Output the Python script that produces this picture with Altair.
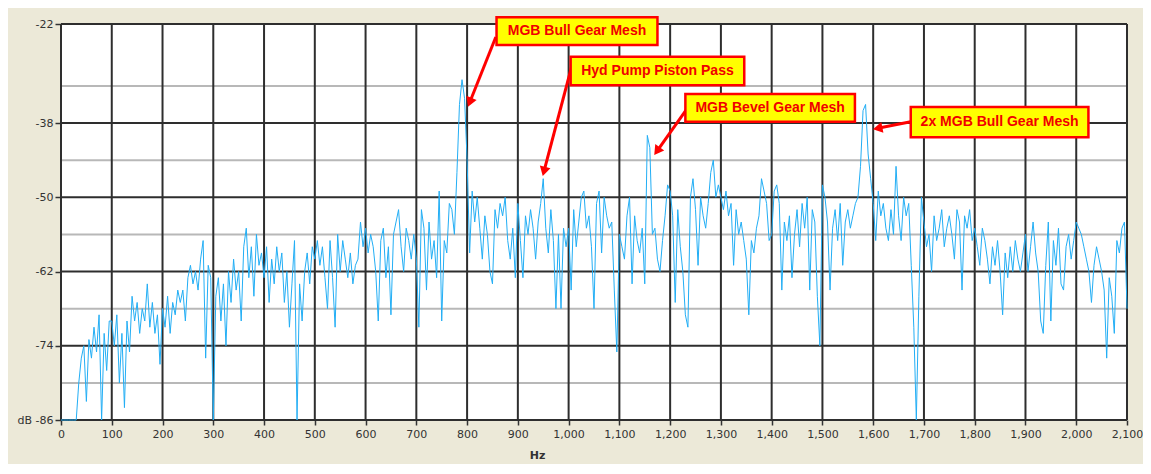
import math
import altair as alt
import pandas as pd

# ---- spectrum values (dB), one list per 100 Hz, 5 Hz bins ----
db_0000 = [-86, -86, -86, -86, -86, -86, -86, -80, -76, -74, -83, -73, -76, -71, -75, -69, -86, -72, -78, -70]
db_0100 = [-70, -74, -69, -80, -72, -84, -70, -75, -66, -70, -67, -72, -68, -70, -64, -71, -67, -72, -69, -77]
db_0200 = [-68, -71, -66, -72, -67, -69, -65, -67, -65, -70, -63, -61, -64, -62, -65, -60, -57, -76, -61, -63]
db_0300 = [-86, -66, -63, -70, -64, -74, -62, -67, -60, -65, -62, -70, -58, -55, -63, -58, -66, -56, -61, -59]
db_0400 = [-63, -58, -67, -60, -64, -58, -62, -59, -67, -62, -71, -64, -57, -86, -64, -70, -62, -59, -64, -58]
db_0500 = [-60, -57, -61, -58, -63, -68, -57, -63, -71, -56, -62, -57, -60, -63, -59, -64, -61, -60, -54, -58]
db_0600 = [-55, -59, -56, -58, -62, -70, -57, -55, -63, -58, -69, -56, -54, -52, -58, -62, -55, -57, -60, -56]
db_0700 = [-60, -71, -52, -55, -65, -54, -60, -57, -63, -49, -70, -57, -59, -51, -52, -56, -46, -35, -31, -34]
db_0800 = [-44, -59, -49, -54, -50, -55, -60, -53, -56, -62, -64, -52, -55, -51, -53, -50, -57, -60, -55, -63]
db_0900 = [-51, -57, -63, -53, -56, -52, -55, -60, -54, -51, -47, -55, -59, -52, -57, -68, -56, -68, -55, -58]
db_1000 = [-55, -65, -52, -58, -54, -50, -49, -55, -53, -58, -68, -51, -49, -59, -50, -53, -55, -54, -65, -75]
db_1100 = [-56, -58, -60, -53, -50, -64, -53, -57, -59, -55, -64, -40, -42, -56, -55, -60, -62, -57, -53, -48]
db_1200 = [-49, -53, -67, -52, -58, -62, -69, -71, -50, -47, -52, -61, -50, -53, -55, -51, -46, -44, -50, -48]
db_1300 = [-50, -52, -49, -53, -51, -61, -52, -56, -54, -57, -60, -69, -57, -59, -55, -53, -47, -49, -51, -57]
db_1400 = [-56, -49, -48, -51, -65, -54, -57, -53, -63, -56, -52, -58, -51, -55, -50, -65, -52, -54, -66, -74]
db_1500 = [-48, -50, -54, -65, -55, -52, -57, -51, -61, -54, -52, -55, -53, -51, -50, -45, -36, -35, -43, -47]
db_1600 = [-51, -57, -49, -53, -51, -55, -57, -52, -56, -45, -53, -57, -50, -53, -51, -61, -71, -86, -66, -50]
db_1700 = [-54, -58, -56, -62, -53, -57, -55, -52, -58, -55, -53, -56, -60, -52, -54, -65, -53, -55, -52, -57]
db_1800 = [-55, -58, -61, -55, -57, -60, -64, -58, -61, -57, -62, -69, -59, -63, -58, -62, -57, -60, -62, -59]
db_1900 = [-56, -62, -58, -54, -59, -62, -70, -72, -61, -54, -70, -57, -61, -55, -64, -65, -58, -56, -60, -57]
db_2000 = [-54, -55, -56, -58, -60, -62, -67, -61, -58, -60, -62, -65, -76, -63, -66, -72, -57, -59, -55, -54, -68]

db_values = (db_0000 + db_0100 + db_0200 + db_0300 + db_0400 + db_0500 + db_0600
             + db_0700 + db_0800 + db_0900 + db_1000 + db_1100 + db_1200 + db_1300
             + db_1400 + db_1500 + db_1600 + db_1700 + db_1800 + db_1900 + db_2000)
freq_hz = [i * 5 for i in range(len(db_values))]

# ---- axes ----
x_ticks = [0, 100, 200, 300, 400, 500, 600, 700, 800, 900, 1000, 1100, 1200, 1300,
           1400, 1500, 1600, 1700, 1800, 1900, 2000, 2100]
y_major = [-86, -74, -62, -50, -38, -22]
y_minor = [-80, -68, -56, -44, -32]

# ---- callouts ----
callout_labels = ["MGB Bull Gear Mesh", "Hyd Pump Piston Pass", "MGB Bevel Gear Mesh", "2x MGB Bull Gear Mesh"]
box_hz_left = [858, 1004, 1230, 1674]
box_hz_right = [1175, 1346, 1564, 2024]
box_db_top = [-20.9, -27.3, -33.3, -35.4]
box_db_bottom = [-25.4, -31.9, -37.8, -40.3]
arrow_hz_from = [856.6, 1005.9, 1232.4, 1673.9]
arrow_db_from = [-24.1, -28.9, -35.8, -37.8]
arrow_hz_to = [801.6, 948.9, 1168.4, 1599.2]
arrow_db_to = [-35.4, -46.6, -43.2, -39.0]

W, H = 1066, 396
X_DOM = [0, 2100]
Y_DOM = [-86, -22]
ppx = W / (X_DOM[1] - X_DOM[0])
ppy = H / (Y_DOM[1] - Y_DOM[0])

rows = []
for i, lab in enumerate(callout_labels):
    dx = (arrow_hz_to[i] - arrow_hz_from[i]) * ppx
    dy = -(arrow_db_to[i] - arrow_db_from[i]) * ppy
    L = math.hypot(dx, dy)
    ux, uy = dx / L, dy / L
    back = 5.0
    hz_c = arrow_hz_to[i] - back * ux / ppx
    db_c = arrow_db_to[i] + back * uy / ppy
    ang = math.degrees(math.atan2(dx, -dy)) % 360
    rows.append(dict(
        label=lab,
        bx1=box_hz_left[i], bx2=box_hz_right[i], by1=box_db_top[i], by2=box_db_bottom[i],
        tx=(box_hz_left[i] + box_hz_right[i]) / 2, ty=(box_db_top[i] + box_db_bottom[i]) / 2,
        ax1=arrow_hz_from[i], ay1=arrow_db_from[i], ax2=hz_c, ay2=db_c,
        angle=ang,
    ))
callouts = pd.DataFrame(rows)

spec = pd.DataFrame({"Hz": freq_hz, "dB": db_values})

xs = alt.Scale(domain=X_DOM, nice=False, zero=False)
ys = alt.Scale(domain=Y_DOM, nice=False, zero=False)

x_axis = alt.Axis(values=x_ticks, format=",d", title="Hz", grid=False, domain=False,
                  labelFont="DejaVu Sans", labelFontSize=11, labelColor="#333333",
                  labelFlush=False, labelOverlap=False, labelPadding=3,
                  tickColor="#333333", tickSize=5, tickWidth=1.5,
                  titleFont="DejaVu Sans", titleFontSize=11, titleFontWeight="bold",
                  titleColor="#333333", titleX=476, titleY=29, titleAlign="center")
y_axis = alt.Axis(values=y_major, title=None, grid=False, domain=False,
                  labelExpr="(datum.value == -86 ? 'dB ' : '') + '-' + abs(datum.value)",
                  labelFont="DejaVu Sans", labelFontSize=11, labelColor="#333333",
                  labelPadding=2, tickColor="#333333", tickSize=6, tickWidth=1.5)

minor_h = alt.Chart(pd.DataFrame({"v": y_minor})).mark_rule(
    color="#B8B8B8", strokeWidth=2
).encode(y=alt.Y("v:Q", scale=ys, axis=y_axis))

major_h = alt.Chart(pd.DataFrame({"v": y_major})).mark_rule(
    color="#2E2E2E", strokeWidth=2
).encode(y=alt.Y("v:Q", scale=ys, axis=y_axis))

major_v = alt.Chart(pd.DataFrame({"v": x_ticks})).mark_rule(
    color="#2E2E2E", strokeWidth=2
).encode(x=alt.X("v:Q", scale=xs, axis=x_axis))

line = alt.Chart(spec).mark_line(color="#22AEF5", strokeWidth=1).encode(
    x=alt.X("Hz:Q", scale=xs, axis=x_axis),
    y=alt.Y("dB:Q", scale=ys, axis=y_axis),
    order="Hz:Q",
)

arrows = alt.Chart(callouts).mark_rule(color="#FF0000", strokeWidth=3).encode(
    x=alt.X("ax1:Q", scale=xs, axis=x_axis), y=alt.Y("ay1:Q", scale=ys, axis=y_axis),
    x2="ax2:Q", y2="ay2:Q",
)

heads = alt.Chart(callouts).mark_point(
    shape="triangle-up", filled=True, color="#FF0000", size=120, opacity=1
).encode(
    x=alt.X("ax2:Q", scale=xs, axis=x_axis), y=alt.Y("ay2:Q", scale=ys, axis=y_axis),
    angle=alt.Angle("angle:Q", scale=None),
)

boxes = alt.Chart(callouts).mark_rect(
    fill="#FFFF00", stroke="#FF0000", strokeWidth=2.5
).encode(
    x=alt.X("bx1:Q", scale=xs, axis=x_axis), x2="bx2:Q",
    y=alt.Y("by1:Q", scale=ys, axis=y_axis), y2="by2:Q",
)

texts = alt.Chart(callouts).mark_text(
    font="Liberation Sans", fontWeight="bold", fontSize=14, color="#F00000",
    align="center", baseline="middle"
).encode(
    x=alt.X("tx:Q", scale=xs, axis=x_axis), y=alt.Y("ty:Q", scale=ys, axis=y_axis),
    text="label:N",
)

chart = alt.layer(minor_h, major_h, major_v, line, arrows, heads, boxes, texts).properties(
    width=W, height=H,
    autosize=alt.AutoSizeParams(type="none"),
    padding={"left": 53, "top": 16, "right": 16, "bottom": 44},
    background="#ECE9D8",
).configure_view(fill="white", stroke="transparent")

chart.save("out.html", embed_options={"renderer": "svg", "actions": False})
